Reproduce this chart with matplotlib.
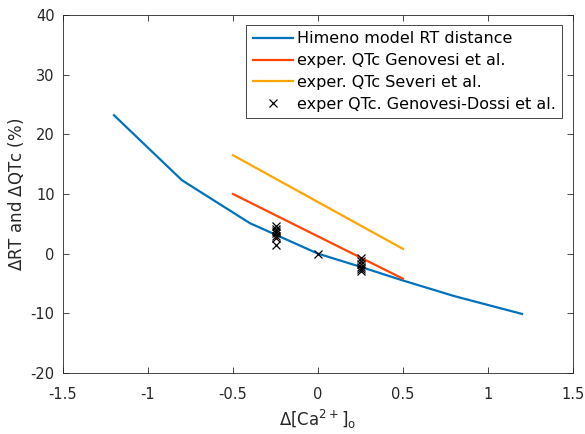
import matplotlib
matplotlib.use("Agg")
import matplotlib.pyplot as plt

plt.rcParams['font.family'] = ['DejaVu Sans']
plt.rcParams['mathtext.fontset'] = 'dejavusans'

# Himeno model RT distance
model_x = [-1.2, -0.8, -0.4, 0.0, 0.25, 0.5, 0.8, 1.2]
model_y = [23.2, 12.3, 5.1, 0.0, -2.2, -4.5, -7.1, -10.1]

# exper. QTc Genovesi et al.
genovesi_x = [-0.5, 0.5]
genovesi_y = [10.0, -4.2]

# exper. QTc Severi et al.
severi_x = [-0.5, 0.5]
severi_y = [16.5, 0.8]

# exper QTc. Genovesi-Dossi et al.
dossi_x = [-0.25, -0.25, -0.25, -0.25, -0.25, -0.25, -0.25,
           0.0,
           0.25, 0.25, 0.25, 0.25, 0.25, 0.25]
dossi_y = [4.6, 4.1, 3.8, 3.4, 3.0, 2.7, 1.4,
           0.0,
           -0.8, -1.3, -1.8, -2.2, -2.6, -2.9]

xticks = [-1.5, -1, -0.5, 0, 0.5, 1, 1.5]
xticklabels = ['-1.5', '-1', '-0.5', '0', '0.5', '1', '1.5']
yticks = [-20, -10, 0, 10, 20, 30, 40]
yticklabels = ['-20', '-10', '0', '10', '20', '30', '40']

fig = plt.figure(figsize=(5.85, 4.34), dpi=100)
ax = fig.add_axes([63/585, 61/434, 510/585, 358/434])

ax.plot(model_x, model_y, color='#0072BD', lw=1.6, label='Himeno model RT distance')
ax.plot(genovesi_x, genovesi_y, color='#FF4500', lw=1.6, label='exper. QTc Genovesi et al.')
ax.plot(severi_x, severi_y, color='#FFA500', lw=1.6, label='exper. QTc Severi et al.')
ax.plot(dossi_x, dossi_y, linestyle='none', marker='x', color='black', ms=5.5, mew=0.9,
        label='exper QTc. Genovesi-Dossi et al.')

ax.set_xlim(-1.5, 1.5)
ax.set_ylim(-20, 40)
ax.set_xticks(xticks)
ax.set_xticklabels(xticklabels)
ax.set_yticks(yticks)
ax.set_yticklabels(yticklabels)

axcol = '#262626'
for s in ax.spines.values():
    s.set_color(axcol)
    s.set_linewidth(0.6)
ax.tick_params(direction='in', top=True, right=True, length=4, width=0.6,
               colors=axcol, labelsize=10.5)
ax.tick_params(axis='x', pad=10)
ax.tick_params(axis='y', pad=6)

ax.set_ylabel(r'$\Delta$RT and $\Delta$QTc (%)', fontsize=12, color=axcol, labelpad=3)
ax.set_xlabel(r'$\Delta$[Ca$^{2+}$]$_{\mathrm{o}}$', fontsize=12, color=axcol, labelpad=4)

leg = ax.legend(loc='upper right', bbox_to_anchor=(0.978, 0.972), fontsize=11.5,
                frameon=True, fancybox=False, framealpha=1, edgecolor=axcol,
                handlelength=2.55, handletextpad=0.2, borderpad=0.4, labelspacing=0.42,
                borderaxespad=0)
leg.get_frame().set_linewidth(0.6)

fig.savefig('out.png', dpi=100)
